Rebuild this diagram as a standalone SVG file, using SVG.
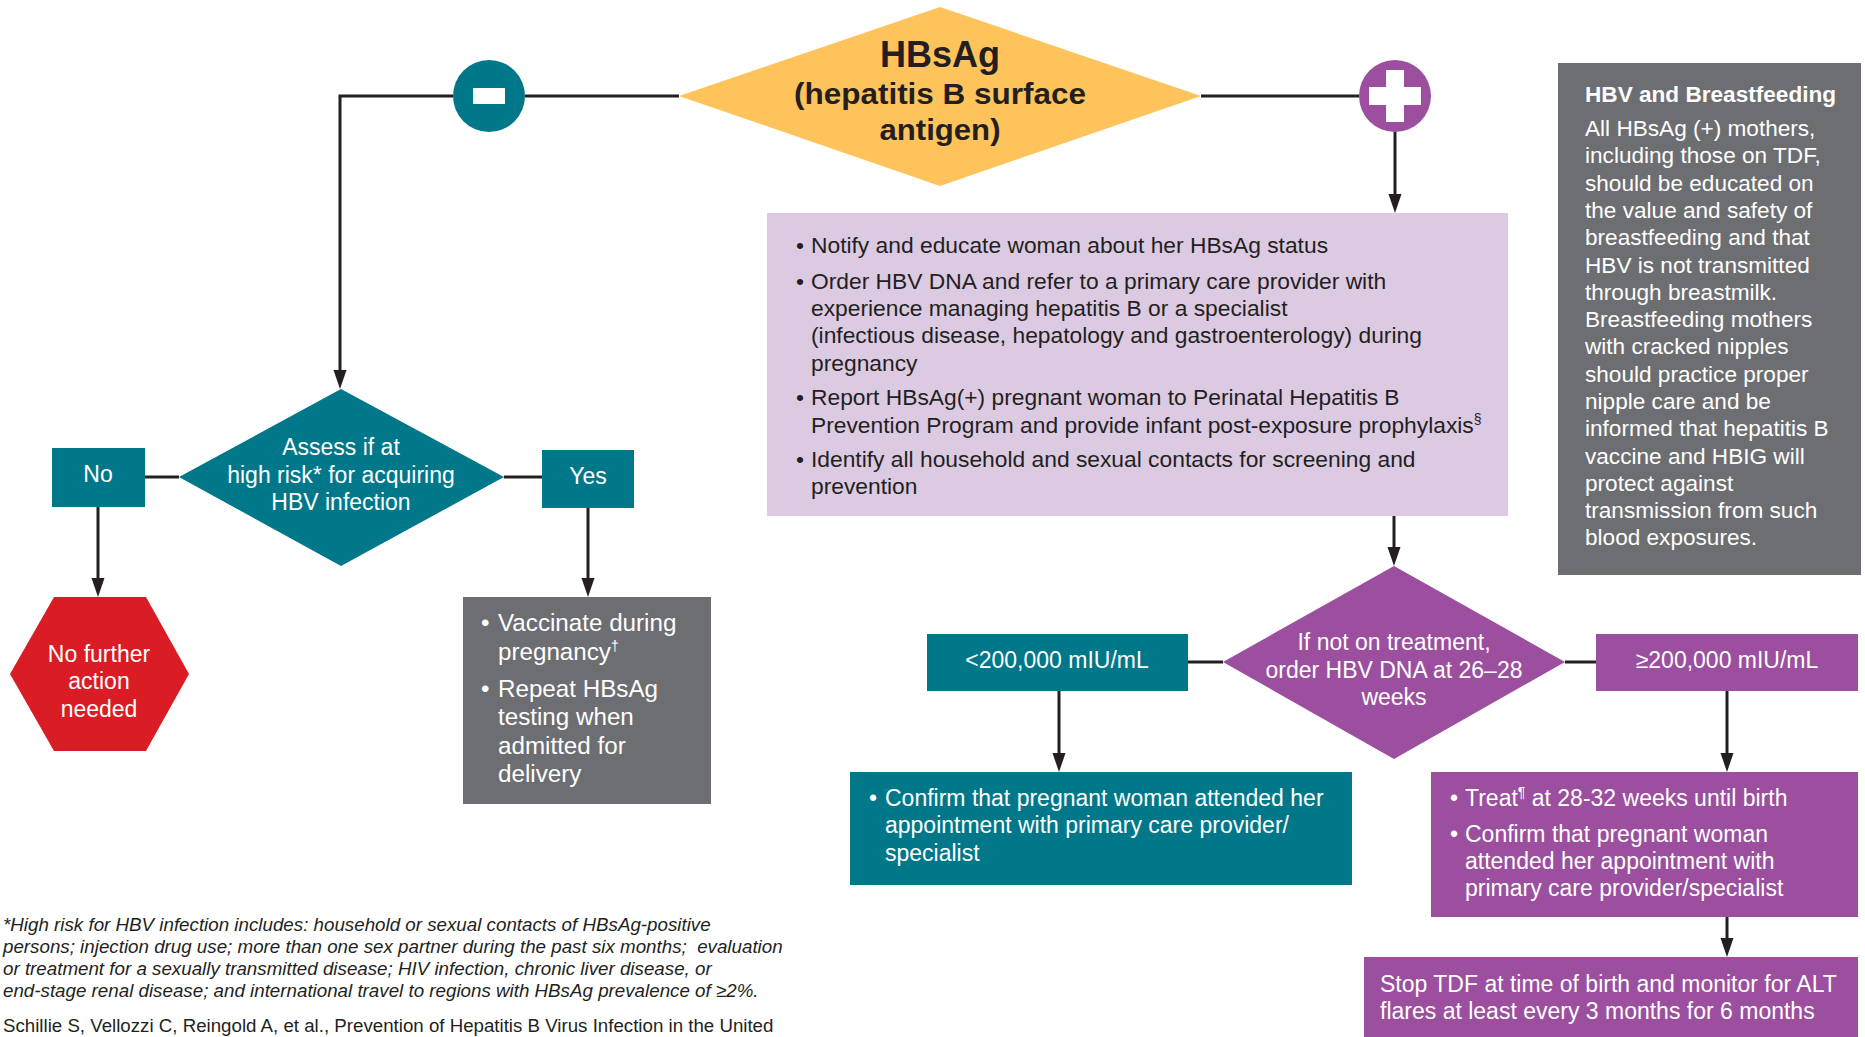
<svg xmlns="http://www.w3.org/2000/svg" width="1865" height="1037" viewBox="0 0 1865 1037">
<style>
text{font-family:"Liberation Sans",Arial,Helvetica,sans-serif;}
.t{font-size:22.8px;fill:#231f20;}
.w{font-size:23px;fill:#ffffff;}
.v{font-size:24.2px;fill:#ffffff;}
.wc{font-size:23px;fill:#ffffff;text-anchor:middle;}
.g{font-size:22.6px;fill:#ffffff;}
.h{font-weight:bold;fill:#231f20;text-anchor:middle;}
.fn{font-size:18.75px;fill:#231f20;font-style:italic;}
.cit{font-size:18.7px;fill:#231f20;}
.ln{fill:none;stroke:#231f20;stroke-width:3;}
.arr{fill:none;stroke:#231f20;stroke-width:3;marker-end:url(#ah);}
</style>
<defs>
<marker id="ah" markerUnits="userSpaceOnUse" markerWidth="20" markerHeight="14" viewBox="0 0 20 14" refX="11" refY="7" orient="auto">
<path d="M0,0.5 L19,7 L0,13.5 Z" fill="#231f20"/>
</marker>
</defs>
<rect width="1865" height="1037" fill="#ffffff"/>

<g id="connectors">
<path class="ln" d="M679,96 H525"/>
<path class="arr" d="M453,96 H340 V381"/>
<path class="ln" d="M1201,96 H1359"/>
<path class="arr" d="M1395,132 V205"/>
<path class="arr" d="M1394,516 V558"/>
<path class="ln" d="M145,477 H179"/>
<path class="ln" d="M504,477 H542"/>
<path class="arr" d="M98,507 V589"/>
<path class="arr" d="M588,508 V589"/>
<path class="ln" d="M1188,662 H1223"/>
<path class="ln" d="M1565,662 H1596"/>
<path class="arr" d="M1059,691 V764"/>
<path class="arr" d="M1727,691 V764"/>
<path class="arr" d="M1727,917 V949"/>
</g>

<g id="hbsag">
<polygon points="679,96 940,7 1201,96 940,186" fill="#fec35a"/>
<text class="h" x="940" y="67" font-size="36">HBsAg</text>
<text class="h" x="940" y="104" font-size="30" textLength="292" lengthAdjust="spacingAndGlyphs">(hepatitis B surface</text>
<text class="h" x="940" y="140" font-size="30" textLength="121" lengthAdjust="spacingAndGlyphs">antigen)</text>
</g>

<g id="minus">
<circle cx="489" cy="96" r="36" fill="#00788a"/>
<rect x="473" y="88" width="32" height="16" fill="#ffffff"/>
</g>

<g id="plus">
<circle cx="1395" cy="96" r="36" fill="#9b4f9e"/>
<rect x="1369" y="87" width="52" height="18" fill="#ffffff"/>
<rect x="1386" y="70" width="18" height="52" fill="#ffffff"/>
</g>

<g id="positive-actions">
<rect x="767" y="213" width="741" height="303" fill="#dccae3"/>
<text class="t" x="796" y="253">•</text>
<text class="t" x="811" y="253">Notify and educate woman about her HBsAg status</text>
<text class="t" x="796" y="289">•</text>
<text class="t" x="811" y="289">Order HBV DNA and refer to a primary care provider with</text>
<text class="t" x="811" y="316">experience managing hepatitis B or a specialist</text>
<text class="t" x="811" y="343">(infectious disease, hepatology and gastroenterology) during</text>
<text class="t" x="811" y="371">pregnancy</text>
<text class="t" x="796" y="405">•</text>
<text class="t" x="811" y="405">Report HBsAg(+) pregnant woman to Perinatal Hepatitis B</text>
<text class="t" x="811" y="433">Prevention Program and provide infant post-exposure prophylaxis<tspan font-size="14" dy="-9">§</tspan></text>
<text class="t" x="796" y="467">•</text>
<text class="t" x="811" y="467">Identify all household and sexual contacts for screening and</text>
<text class="t" x="811" y="494">prevention</text>
</g>

<g id="breastfeeding">
<rect x="1558" y="63" width="303" height="512" fill="#6d6e71"/>
<text class="g" x="1585" y="102" font-weight="bold">HBV and Breastfeeding</text>
<text class="g" x="1585" y="136">All HBsAg (+) mothers,</text>
<text class="g" x="1585" y="163">including those on TDF,</text>
<text class="g" x="1585" y="191">should be educated on</text>
<text class="g" x="1585" y="218">the value and safety of</text>
<text class="g" x="1585" y="245">breastfeeding and that</text>
<text class="g" x="1585" y="273">HBV is not transmitted</text>
<text class="g" x="1585" y="300">through breastmilk.</text>
<text class="g" x="1585" y="327">Breastfeeding mothers</text>
<text class="g" x="1585" y="354">with cracked nipples</text>
<text class="g" x="1585" y="382">should practice proper</text>
<text class="g" x="1585" y="409">nipple care and be</text>
<text class="g" x="1585" y="436">informed that hepatitis B</text>
<text class="g" x="1585" y="464">vaccine and HBIG will</text>
<text class="g" x="1585" y="491">protect against</text>
<text class="g" x="1585" y="518">transmission from such</text>
<text class="g" x="1585" y="545">blood exposures.</text>
</g>

<g id="assess">
<polygon points="179,477 341,389 504,477 341,566" fill="#00788a"/>
<text class="wc" x="341" y="455">Assess if at</text>
<text class="wc" x="341" y="483">high risk* for acquiring</text>
<text class="wc" x="341" y="510">HBV infection</text>
</g>

<g id="no">
<rect x="52" y="448" width="93" height="59" fill="#00788a"/>
<text class="wc" x="98" y="482">No</text>
</g>

<g id="yes">
<rect x="542" y="450" width="92" height="58" fill="#00788a"/>
<text class="wc" x="588" y="484">Yes</text>
</g>

<g id="no-further-action">
<polygon points="54,597 146,597 189,674 146,751 54,751 10,674" fill="#da1c24"/>
<text class="wc" x="99" y="662">No further</text>
<text class="wc" x="99" y="689">action</text>
<text class="wc" x="99" y="717">needed</text>
</g>

<g id="vaccinate">
<rect x="463" y="597" width="248" height="207" fill="#6d6e71"/>
<text class="v" x="481" y="631">•</text>
<text class="v" x="498" y="631">Vaccinate during</text>
<text class="v" x="498" y="660">pregnancy<tspan font-size="14" dy="-9">†</tspan></text>
<text class="v" x="481" y="697">•</text>
<text class="v" x="498" y="697">Repeat HBsAg</text>
<text class="v" x="498" y="725">testing when</text>
<text class="v" x="498" y="754">admitted for</text>
<text class="v" x="498" y="782">delivery</text>
</g>

<g id="hbv-dna">
<polygon points="1223,662 1394,566 1565,662 1394,759" fill="#9b4f9e"/>
<text class="wc" x="1394" y="650">If not on treatment,</text>
<text class="wc" x="1394" y="678">order HBV DNA at 26–28</text>
<text class="wc" x="1394" y="705">weeks</text>
</g>

<g id="low">
<rect x="927" y="634" width="261" height="57" fill="#00788a"/>
<text class="wc" x="1057" y="668">&lt;200,000 mIU/mL</text>
</g>

<g id="high">
<rect x="1596" y="634" width="262" height="57" fill="#9b4f9e"/>
<text class="wc" x="1727" y="668">≥200,000 mIU/mL</text>
</g>

<g id="confirm">
<rect x="850" y="772" width="502" height="113" fill="#00788a"/>
<text class="w" x="869" y="806">•</text>
<text class="w" x="885" y="806">Confirm that pregnant woman attended her</text>
<text class="w" x="885" y="833">appointment with primary care provider/</text>
<text class="w" x="885" y="861">specialist</text>
</g>

<g id="treat">
<rect x="1431" y="772" width="427" height="145" fill="#9b4f9e"/>
<text class="w" x="1450" y="806">•</text>
<text class="w" x="1465" y="806">Treat<tspan font-size="14" dy="-9">¶</tspan><tspan dy="9"> at 28-32 weeks until birth</tspan></text>
<text class="w" x="1450" y="842">•</text>
<text class="w" x="1465" y="842">Confirm that pregnant woman</text>
<text class="w" x="1465" y="869">attended her appointment with</text>
<text class="w" x="1465" y="896">primary care provider/specialist</text>
</g>

<g id="stop-tdf">
<rect x="1364" y="957" width="494" height="80" fill="#9b4f9e"/>
<text class="w" x="1380" y="992">Stop TDF at time of birth and monitor for ALT</text>
<text class="w" x="1380" y="1019">flares at least every 3 months for 6 months</text>
</g>

<g id="footnote">
<text class="fn" x="3" y="931">*High risk for HBV infection includes: household or sexual contacts of HBsAg-positive</text>
<text class="fn" x="3" y="953">persons; injection drug use; more than one sex partner during the past six months;&#160; evaluation</text>
<text class="fn" x="3" y="975">or treatment for a sexually transmitted disease; HIV infection, chronic liver disease, or</text>
<text class="fn" x="3" y="997">end-stage renal disease; and international travel to regions with HBsAg prevalence of ≥2%.</text>
<text class="cit" x="3" y="1032">Schillie S, Vellozzi C, Reingold A, et al., Prevention of Hepatitis B Virus Infection in the United</text>
</g>
</svg>
